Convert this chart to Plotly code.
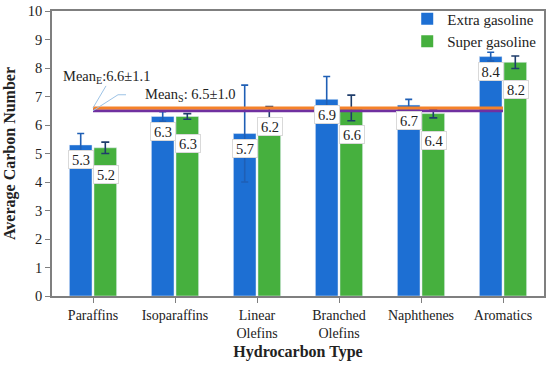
import plotly.graph_objects as go

categories = ["Paraffins", "Isoparaffins", "Linear<br>Olefins", "Branched<br>Olefins", "Naphthenes", "Aromatics"]
extra_values = [5.3, 6.3, 5.7, 6.9, 6.7, 8.4]
extra_errors = [0.4, 0.17, 1.7, 0.8, 0.2, 0.15]
super_values = [5.2, 6.3, 6.2, 6.6, 6.4, 8.2]
super_errors = [0.2, 0.1, 0.45, 0.45, 0.15, 0.22]
mean_extra = 6.6
mean_extra_sd = 1.1
mean_super = 6.5
mean_super_sd = 1.0

FONT = "Liberation Serif"
BLUE = "#1d6fd3"
GREEN = "#46b03e"

fig = go.Figure()

fig.add_trace(go.Bar(
    x=categories, y=extra_values, name="Extra gasoline", marker_color=BLUE,
    error_y=dict(type="data", array=extra_errors, color="#1f5fb5", thickness=1.6, width=3.5),
    showlegend=False,
))
fig.add_trace(go.Bar(
    x=categories, y=super_values, name="Super gasoline", marker_color=GREEN,
    error_y=dict(type="data", array=super_errors, color="#1f3d6b", thickness=1.6, width=4),
    showlegend=False,
))

# mean lines
fig.add_trace(go.Scatter(
    x=[categories[0], categories[-1]], y=[mean_super, mean_super], mode="lines",
    line=dict(color="#7030a0", width=3), showlegend=False, hoverinfo="skip"))
fig.add_trace(go.Scatter(
    x=[categories[0], categories[-1]], y=[mean_extra, mean_extra], mode="lines",
    line=dict(color="#f5822a", width=3), showlegend=False, hoverinfo="skip"))

# legend entries
fig.add_trace(go.Scatter(x=[None], y=[None], mode="markers", name="Extra gasoline",
                         marker=dict(symbol="square", size=9, color=BLUE)))
fig.add_trace(go.Scatter(x=[None], y=[None], mode="markers", name="Super gasoline",
                         marker=dict(symbol="square", size=9, color=GREEN)))

# data labels
label_style = dict(showarrow=False, bgcolor="white", bordercolor="#d9d9d9", borderwidth=1,
                   borderpad=1, width=22, height=15,
                   font=dict(family=FONT, size=14.5, color="#222"))
for c, v in zip(categories, extra_values):
    fig.add_annotation(x=c, y=v, text=f"{v:.1f}", xshift=-12.5, yshift=-15, **label_style)
for c, v in zip(categories, super_values):
    ys = -7 if c.startswith("Linear") else -27
    fig.add_annotation(x=c, y=v, text=f"{v:.1f}", xshift=12.5, yshift=ys, **label_style)

# mean annotations
fig.add_annotation(x=categories[0], y=mean_extra, text=f"Mean<sub>E</sub>:{mean_extra}±{mean_extra_sd}",
                   showarrow=False, xshift=13.5, yshift=31,
                   font=dict(family=FONT, size=14.5, color="#222"))
fig.add_annotation(x=categories[0], y=mean_super, text=f"Mean<sub>S</sub>: {mean_super}±{mean_super_sd:.1f}",
                   showarrow=False, xshift=97, yshift=16,
                   font=dict(family=FONT, size=14.5, color="#222"))
fig.add_shape(type="path", xref="x", yref="y", xsizemode="pixel", ysizemode="pixel",
              xanchor=0, yanchor=mean_extra, path="M0,0 L13,22",
              line=dict(color="#9dc3e6", width=1))
fig.add_shape(type="path", xref="x", yref="y", xsizemode="pixel", ysizemode="pixel",
              xanchor=0, yanchor=mean_super, path="M0,0 L25,16 L33,16",
              line=dict(color="#9dc3e6", width=1))

fig.update_layout(
    width=550, height=366,
    margin=dict(l=52, r=6, t=11, b=70, autoexpand=False),
    plot_bgcolor="white", paper_bgcolor="white",
    barmode="group", bargap=0.4, bargroupgap=0.08,
    font=dict(family=FONT, size=15, color="#222"),
    legend=dict(x=0.722, y=1.03, xanchor="left", yanchor="top", bgcolor="rgba(0,0,0,0)",
                font=dict(family=FONT, size=15), tracegroupgap=0, itemsizing="constant",
                itemwidth=30),
    xaxis=dict(
        title=dict(text="<b>Hydrocarbon Type</b>", font=dict(family=FONT, size=16), standoff=6),
        automargin=False,
        showline=True, linecolor="#7f7f7f", linewidth=1.5, mirror=True,
        ticks="outside", ticklen=5, tickcolor="#7f7f7f", tickfont=dict(family=FONT, size=14),
        showgrid=False,
    ),
    yaxis=dict(
        title=dict(text="<b>Average Carbon Number</b>", font=dict(family=FONT, size=16), standoff=8),
        automargin=False,
        range=[0, 10], dtick=1, showline=True, linecolor="#7f7f7f", linewidth=1.5, mirror=True,
        ticks="outside", ticklen=5, tickcolor="#7f7f7f", tickfont=dict(family=FONT, size=14.5),
        showgrid=False, zeroline=False,
    ),
)

fig.write_html("out.html", config={"displayModeBar": False},
               post_script="document.body.style.margin='0';document.body.style.padding='0';")
